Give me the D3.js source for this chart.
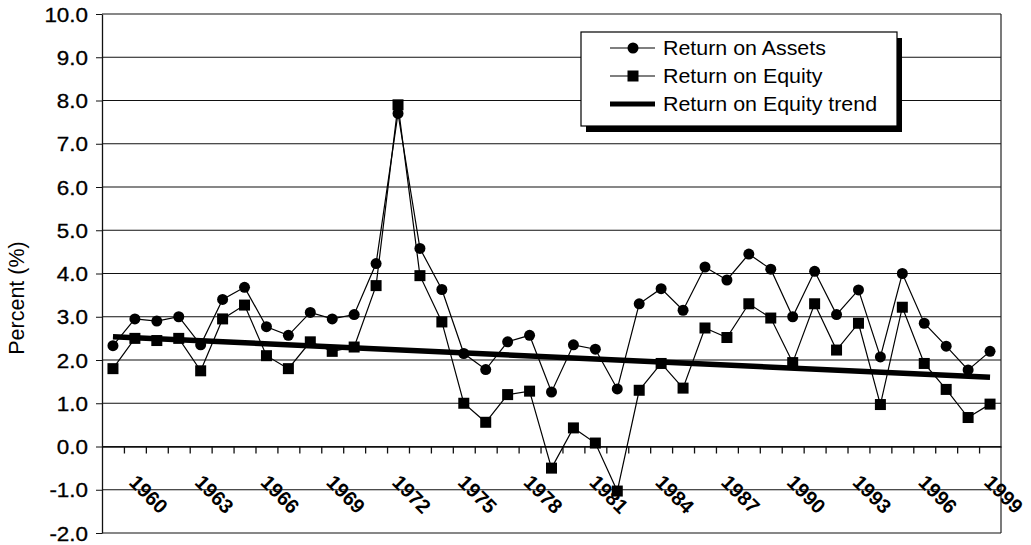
<!DOCTYPE html>
<html>
<head>
<meta charset="utf-8">
<script src="https://cdn.jsdelivr.net/npm/d3@7"></script>
<style>
  body { margin: 0; background: #fff; }
  text { font-family: "Liberation Sans", Arial, sans-serif; fill: #000; }
</style>
</head>
<body>
<div id="container"></div>
<script>
 // chart size
 var width = 1031;
 var height = 545;

 //-----------------------------DATA------------------------------//
 var years = [1959, 1960, 1961, 1962, 1963, 1964, 1965, 1966, 1967, 1968,
              1969, 1970, 1971, 1972, 1973, 1974, 1975, 1976, 1977, 1978,
              1979, 1980, 1981, 1982, 1983, 1984, 1985, 1986, 1987, 1988,
              1989, 1990, 1991, 1992, 1993, 1994, 1995, 1996, 1997, 1998, 1999];

 var returnOnAssets = [2.33, 2.95, 2.9, 3.0, 2.35, 3.4, 3.68, 2.77, 2.57, 3.1,
                       2.95, 3.05, 4.23, 7.7, 4.58, 3.63, 2.15, 1.78, 2.42, 2.57,
                       1.26, 2.35, 2.25, 1.33, 3.3, 3.65, 3.15, 4.15, 3.85, 4.45,
                       4.1, 3.0, 4.05, 3.05, 3.62, 2.07, 4.0, 2.85, 2.32, 1.77, 2.2];

 var returnOnEquity = [1.8, 2.5, 2.45, 2.5, 1.75, 2.95, 3.27, 2.1, 1.8, 2.42,
                       2.2, 2.3, 3.72, 7.9, 3.95, 2.88, 1.0, 0.56, 1.2, 1.28,
                       -0.5, 0.43, 0.08, -1.03, 1.3, 1.92, 1.35, 2.74, 2.52, 3.3,
                       2.97, 1.94, 3.3, 2.23, 2.85, 0.97, 3.22, 1.92, 1.32, 0.67, 0.98];

 // trend line end points (first and last year)
 var trendYears = [1959, 1999];
 var trendValues = [2.54, 1.6];

 var yTicks = [-2, -1, 0, 1, 2, 3, 4, 5, 6, 7, 8, 9, 10];
 var yearLabels = [1960, 1963, 1966, 1969, 1972, 1975, 1978, 1981, 1984, 1987, 1990, 1993, 1996, 1999];

 var legendNames = ["Return on Assets", "Return on Equity", "Return on Equity trend"];

 //-----------------------------SVG------------------------------//
 var svg = d3.select("div#container").append("svg")
     .attr("width", width)
     .attr("height", height);

 var plotLeft = 102, plotRight = 1001, plotTop = 14, plotBottom = 533;

 //----------------------------SCALES-----------------------------//
 var xScale = d3.scaleBand().domain(years).range([plotLeft, plotRight]);
 var xCenter = function(yr) { return xScale(yr) + xScale.bandwidth() / 2; };
 var xEdge = d3.scaleLinear().domain([0, years.length]).range([plotLeft, plotRight]);

 var yScale = d3.scaleLinear().domain([-2, 10]).range([plotBottom, plotTop]);

 //----------------------------GRID-------------------------------//
 svg.append("g")
     .selectAll("line")
     .data(yTicks)
     .enter()
     .append("line")
     .attr("x1", plotLeft)
     .attr("x2", plotRight)
     .attr("y1", d => yScale(d))
     .attr("y2", d => yScale(d))
     .style("stroke", "#111")
     .style("stroke-width", 1.1);

 // right border
 svg.append("line")
     .attr("x1", plotRight).attr("x2", plotRight)
     .attr("y1", plotTop).attr("y2", plotBottom)
     .style("stroke", "#222")
     .style("stroke-width", 1.2);

 //-----------------------------AXES------------------------------//
 var fmt = d3.format(".1f");
 var yaxis = d3.axisLeft(yScale)
     .tickValues(yTicks)
     .tickSize(6)
     .tickSizeOuter(0)
     .tickFormat(d => fmt(d).replace("\u2212", "-"));

 var gy = svg.append("g")
     .attr("transform", "translate(" + plotLeft + ",0)")
     .call(yaxis);
 gy.select(".domain").style("stroke", "#111").style("stroke-width", 1.3);
 gy.selectAll(".tick line").style("stroke", "#111");
 gy.selectAll(".tick text")
     .attr("x", 0)
     .attr("dy", null)
     .attr("transform", "translate(-14,7) scale(1.15,1)")
     .style("font-size", "19.5px")
     .style("font-family", "'Liberation Sans', Arial, sans-serif")
     .style("stroke", "#000")
     .style("stroke-width", 0.3)
     .style("fill", "#000");

 var xaxis = d3.axisBottom(xEdge)
     .tickValues(d3.range(1, years.length))
     .tickSize(7)
     .tickSizeOuter(0)
     .tickFormat("");

 var gx = svg.append("g")
     .attr("transform", "translate(0," + yScale(0) + ")")
     .call(xaxis);
 gx.select(".domain").style("stroke", "#111").style("stroke-width", 1.3);
 gx.selectAll(".tick line").style("stroke", "#111").style("stroke-width", 1.3);

 svg.append("g")
     .selectAll("text")
     .data(yearLabels)
     .enter()
     .append("text")
     .attr("transform", d => "translate(" + (xCenter(d) - 7) + "," + (yScale(0) + 37) + ") rotate(45)")
     .style("font-size", "20px")
     .style("font-weight", "bold")
     .text(d => d);

 svg.append("text")
     .attr("transform", "translate(24," + 298 + ") rotate(-90)")
     .style("text-anchor", "middle")
     .style("font-size", "21.5px")
     .text("Percent (%)");

 //----------------------------LINES------------------------------//
 var line = d3.line()
     .x(d => xCenter(d.year))
     .y(d => yScale(d.value));

 var roa = years.map((yr, i) => ({ year: yr, value: returnOnAssets[i] }));
 var roe = years.map((yr, i) => ({ year: yr, value: returnOnEquity[i] }));
 var trend = trendYears.map((yr, i) => ({ year: yr, value: trendValues[i] }));

 svg.append("path")
     .attr("d", line(trend))
     .style("fill", "none")
     .style("stroke", "#000")
     .style("stroke-width", 5.5);

 svg.append("path")
     .attr("d", line(roa))
     .style("fill", "none")
     .style("stroke", "#000")
     .style("stroke-width", 1.2);

 svg.append("path")
     .attr("d", line(roe))
     .style("fill", "none")
     .style("stroke", "#000")
     .style("stroke-width", 1.2);

 svg.append("g")
     .selectAll("circle")
     .data(roa)
     .enter()
     .append("circle")
     .attr("cx", d => xCenter(d.year))
     .attr("cy", d => yScale(d.value))
     .attr("r", 5.5)
     .style("fill", "#000");

 svg.append("g")
     .selectAll("rect")
     .data(roe)
     .enter()
     .append("rect")
     .attr("x", d => xCenter(d.year) - 5.5)
     .attr("y", d => yScale(d.value) - 5.5)
     .attr("width", 11)
     .attr("height", 11)
     .style("fill", "#000");

 //----------------------------LEGEND-----------------------------//
 var lx = 581, ly = 32, lw = 316, lh = 94;

 svg.append("rect")
     .attr("x", lx + 5).attr("y", ly + 6)
     .attr("width", lw).attr("height", lh)
     .style("fill", "#000");

 svg.append("rect")
     .attr("x", lx).attr("y", ly)
     .attr("width", lw).attr("height", lh)
     .style("fill", "#fff")
     .style("stroke", "#000")
     .style("stroke-width", 1.2);

 var legend = svg.append("g")
     .selectAll("g")
     .data(legendNames)
     .enter()
     .append("g")
     .attr("transform", (d, i) => "translate(0," + (ly + 16 + i * 28) + ")");

 legend.append("line")
     .attr("x1", 610).attr("x2", 655)
     .attr("y1", 0).attr("y2", 0)
     .style("stroke", "#000")
     .style("stroke-width", (d, i) => i === 2 ? 5 : 1.2);

 legend.filter((d, i) => i === 0)
     .append("circle")
     .attr("cx", 633).attr("cy", 0).attr("r", 5.5)
     .style("fill", "#000");

 legend.filter((d, i) => i === 1)
     .append("rect")
     .attr("x", 627.5).attr("y", -5.5)
     .attr("width", 11).attr("height", 11)
     .style("fill", "#000");

 legend.append("text")
     .attr("transform", "translate(663,7) scale(1.07,1)")
     .style("font-size", "20px")
     .text(d => d);
</script>
</body>
</html>
